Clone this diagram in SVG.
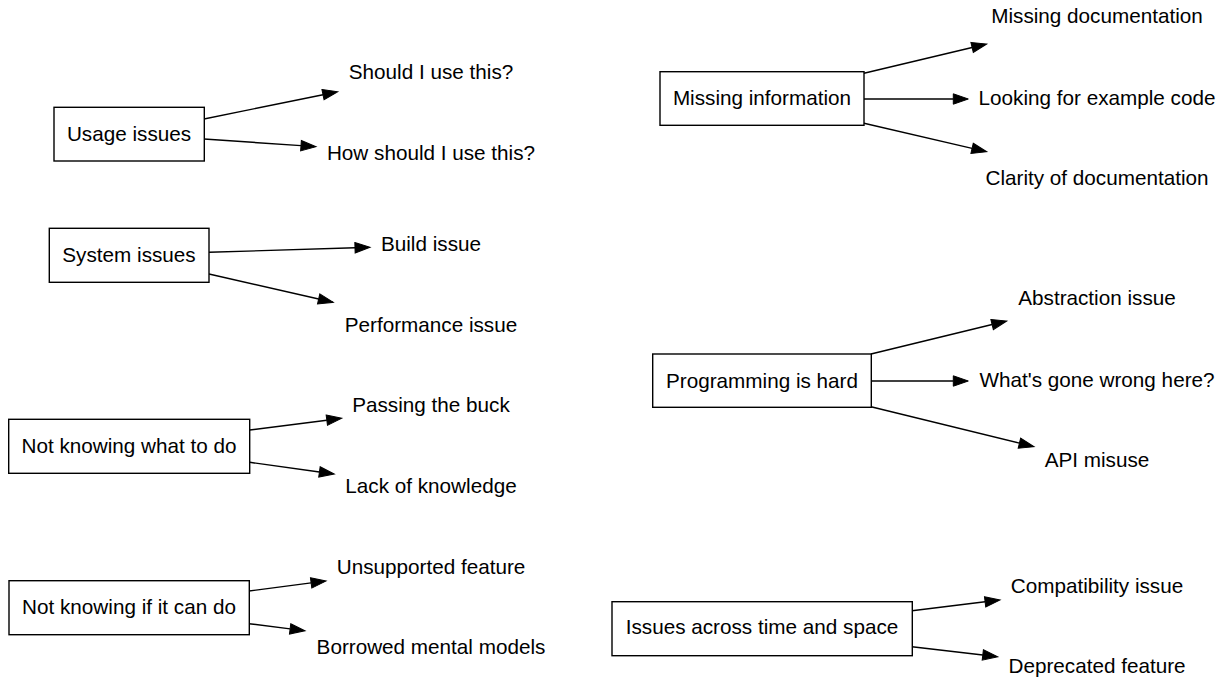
<svg xmlns="http://www.w3.org/2000/svg" width="1226" height="678" viewBox="0 0 1226 678">
<style>
  .box { fill: #ffffff; stroke: #000000; stroke-width: 1.4; }
  .lbl { font-family: "Liberation Sans", Arial, Helvetica, sans-serif; font-size: 20.7px; fill: #000000; text-anchor: middle; }
  .edge { fill: none; stroke: #000000; stroke-width: 1.4; marker-end: url(#arr); }
</style>
<defs>
  <marker id="arr" markerUnits="userSpaceOnUse" markerWidth="16" markerHeight="12" viewBox="0 -6 16 12" refX="0" refY="0" orient="auto" overflow="visible">
    <path d="M0,-5.2 L15,0 L0,5.2 z" fill="#000000" stroke="#000000" stroke-width="1"/>
  </marker>
</defs>
<rect width="1226" height="678" fill="#ffffff"/>

<g id="connectors">
  <path class="edge" d="M204,119 L323.0,94.7"/>
  <path class="edge" d="M204,139 L301.0,145.67"/>
  <path class="edge" d="M209,252.3 L355.0,247.77"/>
  <path class="edge" d="M209,274 L318.67,298.97"/>
  <path class="edge" d="M249.7,430 L326.82,420.19"/>
  <path class="edge" d="M249.7,462.3 L319.44,471.94"/>
  <path class="edge" d="M249,591 L311.13,582.93"/>
  <path class="edge" d="M249,623.7 L290.12,628.84"/>
  <path class="edge" d="M864,73.3 L972.1,47.48"/>
  <path class="edge" d="M864,99 L953.3,99"/>
  <path class="edge" d="M864,123.3 L972.09,148.32"/>
  <path class="edge" d="M871,354 L992.12,324.54"/>
  <path class="edge" d="M871,381 L953.3,381"/>
  <path class="edge" d="M871,406.7 L1019.43,443.13"/>
  <path class="edge" d="M912,610.7 L985.11,601.81"/>
  <path class="edge" d="M912,646.7 L982.8,654.96"/>
</g>

<g id="usage-issues">
  <rect class="box" x="54" y="107.3" width="150.3" height="53.7"/>
  <text class="lbl" x="129" y="140.7">Usage issues</text>
</g>
<g id="should-i-use-this"><text class="lbl" x="431" y="79.3">Should I use this?</text></g>
<g id="how-should-i-use-this"><text class="lbl" x="431" y="160">How should I use this?</text></g>

<g id="system-issues">
  <rect class="box" x="49.3" y="228.3" width="159.7" height="54"/>
  <text class="lbl" x="129" y="261.7">System issues</text>
</g>
<g id="build-issue"><text class="lbl" x="431" y="251">Build issue</text></g>
<g id="performance-issue"><text class="lbl" x="431" y="331.7">Performance issue</text></g>

<g id="not-knowing-what-to-do">
  <rect class="box" x="8.7" y="419.3" width="241" height="54"/>
  <text class="lbl" x="129" y="452.7">Not knowing what to do</text>
</g>
<g id="passing-the-buck"><text class="lbl" x="431" y="411.7">Passing the buck</text></g>
<g id="lack-of-knowledge"><text class="lbl" x="431" y="493.3">Lack of knowledge</text></g>

<g id="not-knowing-if-it-can-do">
  <rect class="box" x="9" y="580.7" width="240.3" height="54"/>
  <text class="lbl" x="129" y="614">Not knowing if it can do</text>
</g>
<g id="unsupported-feature"><text class="lbl" x="431" y="574">Unsupported feature</text></g>
<g id="borrowed-mental-models"><text class="lbl" x="431" y="654">Borrowed mental models</text></g>

<g id="missing-information">
  <rect class="box" x="660" y="71.7" width="204" height="53.6"/>
  <text class="lbl" x="762" y="105">Missing information</text>
</g>
<g id="missing-documentation"><text class="lbl" x="1097" y="23.3">Missing documentation</text></g>
<g id="looking-for-example-code"><text class="lbl" x="1097" y="105">Looking for example code</text></g>
<g id="clarity-of-documentation"><text class="lbl" x="1097" y="185">Clarity of documentation</text></g>

<g id="programming-is-hard">
  <rect class="box" x="652.7" y="354" width="218.6" height="53.3"/>
  <text class="lbl" x="762" y="388.3">Programming is hard</text>
</g>
<g id="abstraction-issue"><text class="lbl" x="1097" y="305">Abstraction issue</text></g>
<g id="whats-gone-wrong-here"><text class="lbl" x="1097" y="386.7">What's gone wrong here?</text></g>
<g id="api-misuse"><text class="lbl" x="1097" y="466.7">API misuse</text></g>

<g id="issues-across-time-and-space">
  <rect class="box" x="612" y="601.7" width="300.3" height="54"/>
  <text class="lbl" x="762" y="634">Issues across time and space</text>
</g>
<g id="compatibility-issue"><text class="lbl" x="1097" y="593.3">Compatibility issue</text></g>
<g id="deprecated-feature"><text class="lbl" x="1097" y="673.3">Deprecated feature</text></g>
</svg>
